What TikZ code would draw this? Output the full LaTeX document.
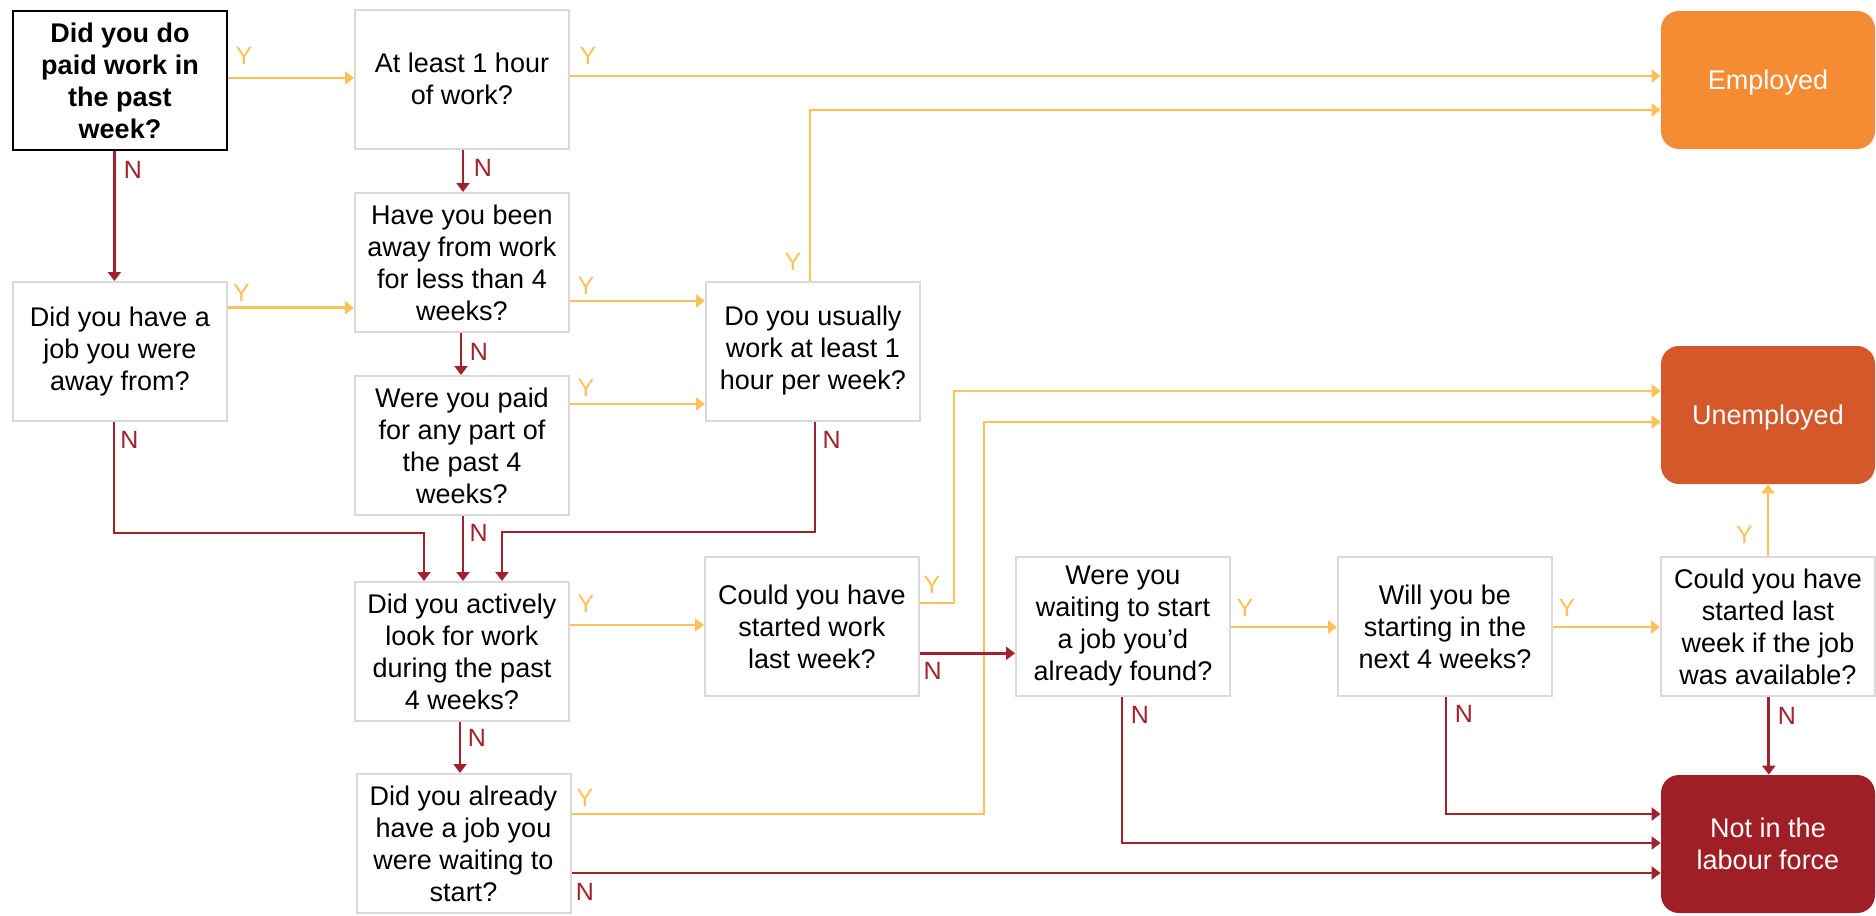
\documentclass[tikz,border=0pt]{standalone}
\usepackage{fontspec}
\setmainfont{Liberation Sans}
\usetikzlibrary{arrows.meta}
\definecolor{ylw}{HTML}{FFC158}
\definecolor{dred}{HTML}{A0222A}
\definecolor{empc}{HTML}{F58C34}
\definecolor{unempc}{HTML}{D4582A}
\definecolor{nilfc}{HTML}{A01F26}
\definecolor{boxgray}{HTML}{D9D9D9}
\begin{document}
\begin{tikzpicture}[x=0.5pt,y=-0.5pt,
  q/.style={draw=boxgray,line width=1pt,fill=white,minimum width=107pt,minimum height=69.5pt,
    inner sep=0pt,align=center,font=\fontsize{13.5pt}{16pt}\selectfont},
  qbold/.style={q,draw=black,font=\fontsize{13.5pt}{16pt}\selectfont\bfseries},
  res/.style={draw=none,rounded corners=9pt,minimum width=107pt,minimum height=69pt,
    inner sep=0pt,align=center,text=white,text depth=0pt,font=\fontsize{13.5pt}{16pt}\selectfont},
  yarr/.style={draw=ylw,line width=1.4pt,-{Triangle[length=4.5pt,width=6.5pt]}},
  narr/.style={draw=dred,line width=1.4pt,-{Triangle[length=4.5pt,width=6.5pt]}},
  ylab/.style={text=ylw,inner sep=0pt,font=\fontsize{12.5pt}{14pt}\selectfont},
  nlab/.style={text=dred,inner sep=0pt,font=\fontsize{12.5pt}{14pt}\selectfont}]
\useasboundingbox (0,0) rectangle (1876,916);

% question boxes
\node[qbold] (q1) at (120,80.5) {Did you do\\paid work in\\the past\\week?};
\node[q] (q2) at (462,79) {At least 1 hour\\of work?};
\node[q] (q3) at (462,262.5) {Have you been\\away from work\\for less than 4\\weeks?};
\node[q] (q4) at (462,445.5) {Were you paid\\for any part of\\the past 4\\weeks?};
\node[q] (q5) at (120,351.5) {Did you have a\\job you were\\away from?};
\node[q] (q6) at (813,351) {Do you usually\\work at least 1\\hour per week?};
\node[q] (q7) at (462,651.5) {Did you actively\\look for work\\during the past\\4 weeks?};
\node[q] (q8) at (812,626.5) {Could you have\\started work\\last week?};
\node[q] (q9) at (463.5,843.5) {Did you already\\have a job you\\were waiting to\\start?};
\node[q] (q10) at (1123,626.5) {Were you\\waiting to start\\a job you’d\\already found?};
\node[q] (q11) at (1445,626.5) {Will you be\\starting in the\\next 4 weeks?};
\node[q] (q12) at (1768,626.5) {Could you have\\started last\\week if the job\\was available?};

% result boxes
\node[res,fill=empc] (emp) at (1768,80) {Employed};
\node[res,fill=unempc] (unemp) at (1768,415) {Unemployed};
\node[res,fill=nilfc] (nilf) at (1768,844) {Not in the\\labour force};

% Y connectors
\draw[yarr] (q1.east |- 0,78) -- (q2.west |- 0,78);
\draw[yarr] (q2.east |- 0,76) -- (emp.west |- 0,76);
\draw[yarr] (q5.east |- 0,307.7) -- (q3.west |- 0,307.7);
\draw[yarr] (q3.east |- 0,301) -- (q6.west |- 0,301);
\draw[yarr] (q4.east |- 0,404) -- (q6.west |- 0,404);
\draw[yarr] (q6.north -| 810,0) |- (emp.west |- 0,110);
\draw[yarr] (q7.east |- 0,625) -- (q8.west |- 0,625);
\draw[yarr] (q8.east |- 0,603) -| (954,391) -- (unemp.west |- 0,391);
\draw[yarr] (q9.east |- 0,814) -| (984,422) -- (unemp.west |- 0,422);
\draw[yarr] (q10.east |- 0,627) -- (q11.west |- 0,627);
\draw[yarr] (q11.east |- 0,627) -- (q12.west |- 0,627);
\draw[yarr] (q12.north) -- (unemp.south);

% N connectors
\draw[narr] (q1.south -| 114.4,0) -- (q5.north -| 114.4,0);
\draw[narr] (q2.south -| 463,0) -- (q3.north -| 463,0);
\draw[narr] (q3.south -| 461,0) -- (q4.north -| 461,0);
\draw[narr] (q5.south -| 114,0) |- (424,533) -- (q7.north -| 424,0);
\draw[narr] (q4.south -| 463,0) -- (q7.north -| 463,0);
\draw[narr] (q6.south -| 815,0) |- (502,532) -- (q7.north -| 502,0);
\draw[narr] (q7.south -| 460,0) -- (q9.north -| 460,0);
\draw[narr] (q8.east |- 0,653.3) -- (q10.west |- 0,653.3);
\draw[narr] (q9.east |- 0,873) -- (nilf.west |- 0,873);
\draw[narr] (q10.south -| 1122,0) |- (nilf.west |- 0,843);
\draw[narr] (q11.south -| 1446,0) |- (nilf.west |- 0,814);
\draw[narr] (q12.south -| 1768.8,0) -- (nilf.north -| 1768.8,0);

% Y labels
\node[ylab] (ly1) at (244,56) {Y};
\node[ylab] (ly2) at (588,56) {Y};
\node[ylab] (ly3) at (241.5,293) {Y};
\node[ylab] (ly4) at (586,286) {Y};
\node[ylab] (ly5) at (586,388) {Y};
\node[ylab] (ly6) at (793,262) {Y};
\node[ylab] (ly7) at (586,604) {Y};
\node[ylab] (ly8) at (932,585) {Y};
\node[ylab] (ly9) at (585,798) {Y};
\node[ylab] (ly10) at (1245,608) {Y};
\node[ylab] (ly11) at (1567,607.5) {Y};
\node[ylab] (ly12) at (1744.5,534.5) {Y};

% N labels
\node[nlab] (ln1) at (133,170) {N};
\node[nlab] (ln2) at (483,168) {N};
\node[nlab] (ln3) at (479,352) {N};
\node[nlab] (ln4) at (129.5,440) {N};
\node[nlab] (ln5) at (478.6,532.7) {N};
\node[nlab] (ln6) at (831.7,440) {N};
\node[nlab] (ln7) at (477,738) {N};
\node[nlab] (ln8) at (932.6,670.7) {N};
\node[nlab] (ln9) at (585,891.7) {N};
\node[nlab] (ln10) at (1140,715) {N};
\node[nlab] (ln11) at (1463.8,713.8) {N};
\node[nlab] (ln12) at (1786.8,715.5) {N};
\end{tikzpicture}
\end{document}
